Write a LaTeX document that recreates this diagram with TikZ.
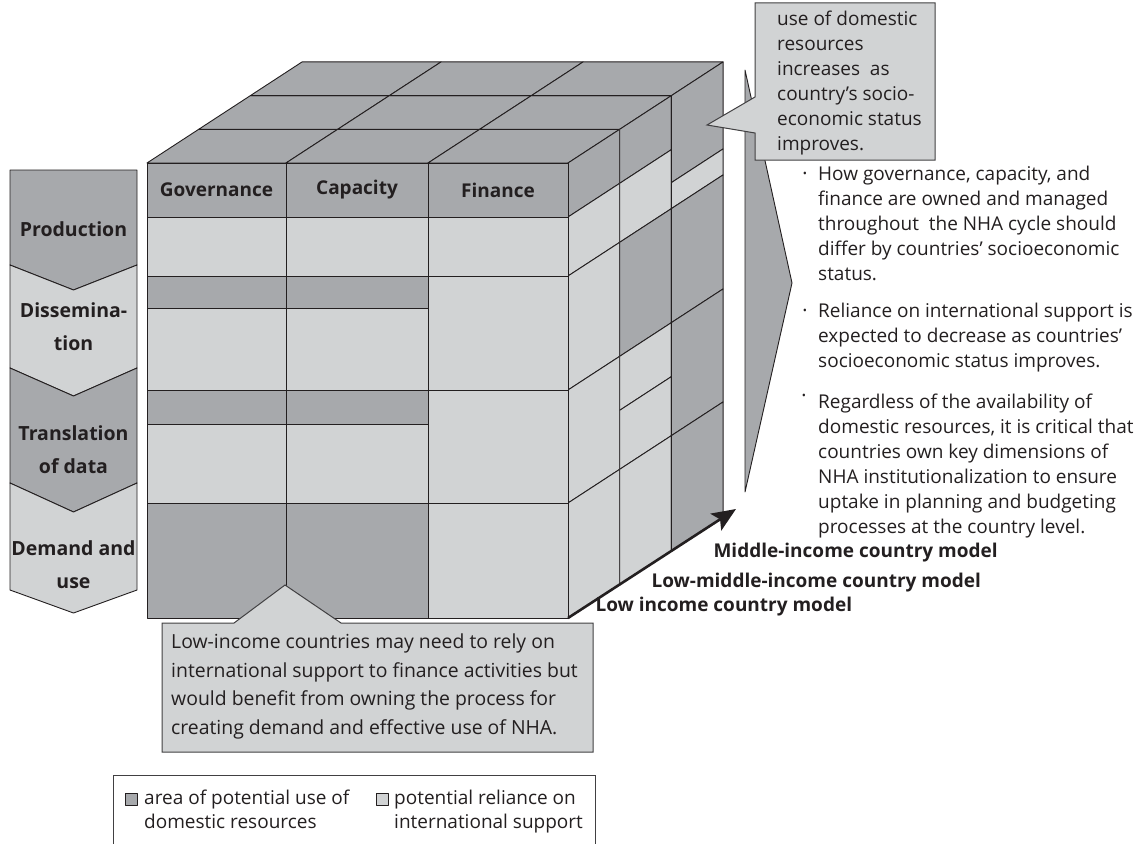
\documentclass[tikz,border=0pt]{standalone}
\usepackage{fontspec}
\setmainfont{Open Sans}
\usetikzlibrary{arrows.meta}

\definecolor{dkgray}{HTML}{A7A9AC}
\definecolor{ltgray}{HTML}{D1D3D4}
\definecolor{rimgray}{HTML}{414042}
\definecolor{inkgray}{HTML}{231F20}

\begin{document}
\begin{tikzpicture}[x=1pt,y=-1pt,
    cell/.style={draw=inkgray,line width=0.9pt,line join=round},
    dk/.style={cell,fill=dkgray},
    lt/.style={cell,fill=ltgray},
    head/.style={font=\fontsize{19}{33}\selectfont\bfseries,text=inkgray,align=center},
    stage/.style={head,font=\fontsize{19.5}{33}\selectfont\bfseries},
    note/.style={font=\fontsize{19}{25}\selectfont,text=inkgray,
                 inner sep=0pt,align=left,anchor=north west},
    dot/.style={font=\fontsize{11}{11}\selectfont,text=inkgray,inner sep=0pt},
    callbox/.style={draw=rimgray,line width=1pt,fill=ltgray,line join=miter}]

\useasboundingbox (0,0) rectangle (1137,843);

% stages of the NHA cycle
\foreach \ya/\pa/\yb/\pb/\c in {170/170/265/290/dk,265/290/368/396/lt,
                               368/396/483/512/dk,483/512/590/613/lt}
  \path[\c] (10,\ya) -- (73.5,\pa) -- (137,\ya) -- (137,\yb)
            -- (73.5,\pb) -- (10,\yb) -- cycle;
\node[stage] (prod)  at (73.5,229) {Production};
\node[stage] (diss)  at (73.5,327) {Dissemina-\\tion};
\node[stage] (trans) at (73.5,450) {Translation\\of data};
\node[stage] (dem)   at (73.5,565) {Demand and\\use};

% top of the cube
\begin{scope}[shift={(0,163)},x={(1pt,0pt)},y={(51.7pt,33.7pt)}]
  \foreach \xa/\xb in {147/286,286/428,428/568}
    \foreach \d in {0,1,2}
      \path[dk] (\xa,\d) -- (\xb,\d) -- (\xb,\d+1) -- (\xa,\d+1) -- cycle;
\end{scope}

% side of the cube: one slice per country model
\begin{scope}[shift={(568,0)},x={(51.7pt,33.7pt)},y={(0pt,-1pt)}]
  \foreach \d/\ya/\yb/\c in {0/163/217/dk,0/217/276/lt,0/276/390/lt,0/390/503/lt,0/503/618/lt,
      1/163/217/dk,1/217/276/lt,1/276/390/dk,1/390/444/lt,1/444/503/lt,1/503/618/lt,
      2/163/250/dk,2/250/276/lt,2/276/390/dk,2/390/503/dk,2/503/618/dk}
    \path[\c] (\d,\ya) -- (\d+1,\ya) -- (\d+1,\yb) -- (\d,\yb) -- cycle;
\end{scope}

% front of the cube
\foreach \xa/\xb in {147/286,286/428}
  \foreach \ya/\yb/\c in {217/276/lt,276/308/dk,308/390/lt,390/424/dk,424/503/lt,503/618/dk}
    \path[\c] (\xa,\ya) rectangle (\xb,\yb);
\foreach \ya/\yb in {217/276,276/390,390/503,503/618}
  \path[lt] (428,\ya) rectangle (568,\yb);
\node[dk,head,anchor=north west,inner sep=0pt,outer sep=0pt,
      minimum width=139pt,minimum height=54pt] (gov) at (147,163) {Governance};
\node[dk,head,anchor=north west,inner sep=0pt,outer sep=0pt,
      minimum width=142pt,minimum height=54pt] (cap) at (gov.north east) {Capacity};
\node[dk,head,anchor=north west,inner sep=0pt,outer sep=0pt,
      minimum width=140pt,minimum height=54pt] (fin) at (cap.north east) {Finance};

% country models
\coordinate (arrS) at (568,618);
\coordinate (arrE) at (736,509);
\draw[inkgray,line width=2.6pt,-{Stealth[length=24pt,width=20pt,inset=5pt]}] (arrS) -- (arrE);
\node[head,anchor=base west] (midm)  at (710,557) {Middle-income country model};
\node[head,anchor=base west] (lmidm) at (648,587) {Low-middle-income country model};
\node[head,anchor=base west] (lowm)  at (592,611) {Low income country model};

% big arrow to the right
\path[dk] (745,70) -- (792,283) -- (745,492) -- cycle;

% callout at the top
\draw[callbox] (755,3) -- (935,3) -- (935,160) -- (755,160) -- (755,133)
  -- (707,125) -- (755,97) -- cycle;
\node[note] (topnote) at (777,11)
  {use of domestic\\resources\\increases\ \ as\\country’s socio-\\economic status\\improves.};

% bullets
\node[note] (bulA) at (818,166) {How governance, capacity, and\\finance are owned and managed\\%
  throughout\ \ the NHA cycle should\\differ by countries’ socioeconomic\\status.};
\node[note] (bulB) at (818,303) {Reliance on international support is\\expected to decrease as countries’\\%
  socioeconomic status improves.};
\node[note] (bulC) at (818,394) {Regardless of the availability of\\domestic resources, it is critical that\\%
  countries own key dimensions of\\NHA institutionalization to ensure\\uptake in planning and budgeting\\%
  processes at the country level.};
\node[dot] (dotA) at (805,175) {•};
\node[dot] (dotB) at (805,312) {•};
\node[dot] (dotC) at (804,397) {•};

% callout at the bottom
\draw[callbox] (162,623) -- (234,623) -- (285,585) -- (341,623) -- (593,623)
  -- (593,752) -- (162,752) -- cycle;
\node[note,font=\fontsize{19.4}{28.4}\selectfont] (lownote) at (171,634)
  {Low-income countries may need to rely on\\international support to finance activities but\\%
   would benefit from owning the process for\\creating demand and effective use of NHA.};

% legend
\draw[rimgray,line width=1pt] (113,850) -- (113,775) -- (595,775) -- (595,850);
\path[dk,line width=0.7pt] (125,793) rectangle (137,805);
\path[lt,line width=0.7pt] (376,793) rectangle (388,805);
\node[note,font=\fontsize{19}{24}\selectfont] (domkey) at (144,790)
  {area of potential use of\\domestic resources};
\node[note,font=\fontsize{19}{24}\selectfont] (intkey) at (394,790)
  {potential reliance on\\international support};

\end{tikzpicture}
\end{document}
